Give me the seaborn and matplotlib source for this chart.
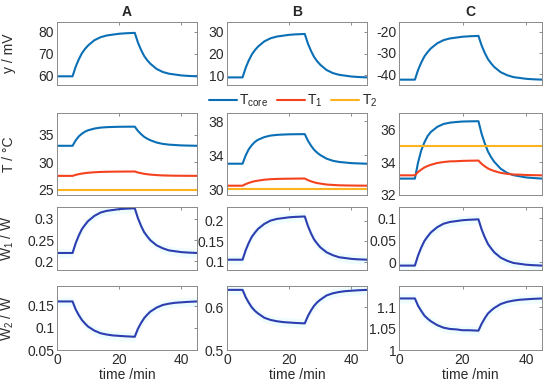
import matplotlib
matplotlib.use("Agg")
import matplotlib.pyplot as plt
import seaborn as sns
import pandas as pd

# time axis (min)
time = [0, 5, 6, 7, 8, 9, 10, 12, 14, 16, 18, 20, 22, 25,
        26, 27, 28, 29, 30, 32, 34, 36, 38, 40, 42, 45]

# row 1: y / mV
y_A = [59.5, 59.5, 63.9, 67.3, 70.1, 72.1, 73.7, 76.1, 77.5, 78.3, 78.7, 79.1, 79.3, 79.5,
       75.1, 71.7, 68.9, 66.9, 65.3, 62.9, 61.5, 60.7, 60.3, 59.9, 59.7, 59.5]
y_B = [9.0, 9.0, 13.4, 16.8, 19.6, 21.6, 23.2, 25.6, 27.0, 27.8, 28.2, 28.6, 28.8, 29.0,
       24.6, 21.2, 18.4, 16.4, 14.8, 12.4, 11.0, 10.2, 9.8, 9.4, 9.2, 9.0]
y_C = [-42.5, -42.5, -38.0, -34.5, -31.6, -29.6, -27.9, -25.5, -24.0, -23.2, -22.8, -22.4, -22.2, -22.0,
       -26.5, -30.0, -32.9, -34.9, -36.6, -39.0, -40.4, -41.3, -41.7, -42.1, -42.3, -42.5]

# row 2: temperatures
t_core = [33.0, 33.0, 33.98, 34.72, 35.21, 35.59, 35.84, 36.15, 36.33, 36.41, 36.45, 36.48, 36.49, 36.5,
          35.73, 35.14, 34.65, 34.30, 34.02, 33.60, 33.35, 33.21, 33.14, 33.07, 33.04, 33.0]
t1_A = [27.5, 27.5, 27.68, 27.81, 27.92, 28.0, 28.07, 28.16, 28.22, 28.25, 28.27, 28.28, 28.29, 28.3,
        28.12, 27.99, 27.88, 27.8, 27.73, 27.64, 27.58, 27.55, 27.53, 27.52, 27.51, 27.5]
t1_B = [30.4, 30.4, 30.59, 30.73, 30.85, 30.94, 31.0, 31.11, 31.17, 31.2, 31.22, 31.23, 31.24, 31.25,
        31.06, 30.92, 30.8, 30.71, 30.65, 30.54, 30.49, 30.45, 30.43, 30.42, 30.41, 30.4]
t1_C = [33.2, 33.2, 33.4, 33.55, 33.68, 33.77, 33.84, 33.95, 34.01, 34.05, 34.06, 34.08, 34.09, 34.1,
        33.9, 33.75, 33.62, 33.53, 33.46, 33.35, 33.29, 33.25, 33.24, 33.22, 33.21, 33.2]
t2_A = [25.0] * len(time)
t2_B = [30.0] * len(time)
t2_C = [35.0] * len(time)

# row 3: W1 / W
w1_A = [0.22, 0.22, 0.243, 0.261, 0.276, 0.286, 0.295, 0.307, 0.315, 0.319, 0.321, 0.323, 0.324, 0.325,
        0.302, 0.284, 0.269, 0.259, 0.25, 0.238, 0.231, 0.226, 0.224, 0.222, 0.221, 0.22]
w1_B = [0.105, 0.105, 0.128, 0.146, 0.161, 0.171, 0.18, 0.192, 0.2, 0.204, 0.206, 0.208, 0.209, 0.21,
        0.187, 0.169, 0.154, 0.144, 0.135, 0.123, 0.116, 0.111, 0.109, 0.107, 0.106, 0.105]
w1_C = [-0.008, -0.008, 0.015, 0.033, 0.048, 0.058, 0.067, 0.079, 0.087, 0.091, 0.093, 0.095, 0.096, 0.097,
        0.074, 0.056, 0.041, 0.031, 0.022, 0.01, 0.003, -0.002, -0.004, -0.006, -0.007, -0.008]

# row 4: W2 / W
w2_A = [0.16, 0.16, 0.142, 0.129, 0.118, 0.11, 0.103, 0.094, 0.088, 0.085, 0.083, 0.082, 0.081, 0.08,
        0.098, 0.111, 0.122, 0.13, 0.137, 0.146, 0.152, 0.155, 0.157, 0.158, 0.159, 0.16]
w2_B = [0.64, 0.64, 0.623, 0.61, 0.599, 0.591, 0.585, 0.575, 0.57, 0.567, 0.565, 0.564, 0.563, 0.562,
        0.579, 0.592, 0.603, 0.611, 0.617, 0.627, 0.632, 0.635, 0.637, 0.638, 0.639, 0.64]
w2_C = [1.12, 1.12, 1.103, 1.091, 1.08, 1.073, 1.067, 1.058, 1.052, 1.049, 1.048, 1.046, 1.046, 1.045,
        1.061, 1.074, 1.085, 1.092, 1.098, 1.107, 1.112, 1.115, 1.117, 1.118, 1.119, 1.12]

columns = ["A", "B", "C"]
row_labels = ["y / mV", "T / °C", "W$_1$ / W", "W$_2$ / W"]

ylims = [
    [(55.5, 84.5), (5.5, 34.5), (-45, -15.5)],
    [(24, 39), (29.3, 39), (32, 37)],
    [(0.18, 0.328), (0.08, 0.233), (-0.018, 0.125)],
    [(0.05, 0.195), (0.5, 0.649), (1.0, 1.149)],
]
yticks = [
    [[60, 70, 80], [10, 20, 30], [-40, -30, -20]],
    [[25, 30, 35], [30, 34, 38], [32, 34, 36]],
    [[0.2, 0.25, 0.3], [0.1, 0.15, 0.2], [0, 0.05, 0.1]],
    [[0.05, 0.1, 0.15], [0.5, 0.6], [1, 1.05, 1.1]],
]

BLUE = "#0b6fb5"
RED = "#f4421f"
ORANGE = "#fdb31f"
NAVY = "#2d3eb1"
TXT = "#2a2a2a"

sns.set_style("white")
plt.rcParams["font.family"] = ["Liberation Sans", "DejaVu Sans"]
plt.rcParams["mathtext.fontset"] = "custom"
plt.rcParams["mathtext.rm"] = "Liberation Sans"
plt.rcParams["mathtext.it"] = "Liberation Sans"

fig = plt.figure(figsize=(5.5, 3.89), dpi=100)
W, H = 550.0, 389.0
col_px = [(57, 197), (227, 367), (399, 542)]
row_px = [(22, 85), (113, 195), (207, 270), (286, 350)]

single = [[y_A, y_B, y_C], None, [w1_A, w1_B, w1_C], [w2_A, w2_B, w2_C]]
temps = [(t_core, t1_A, t2_A), (t_core, t1_B, t2_B), (t_core, t1_C, t2_C)]

for r, (y0, y1) in enumerate(row_px):
    for c, (x0, x1) in enumerate(col_px):
        ax = fig.add_axes([x0 / W, 1 - y1 / H, (x1 - x0) / W, (y1 - y0) / H])
        if r == 1:
            core, t1, t2 = temps[c]
            df = pd.DataFrame({
                "time": time * 3,
                "T": core + t1 + t2,
                "series": ["core"] * len(time) + ["t1"] * len(time) + ["t2"] * len(time),
            })
            sns.lineplot(data=df, x="time", y="T", hue="series", ax=ax,
                         palette=[BLUE, RED, ORANGE], linewidth=1.5, legend=False)
        else:
            vals = single[r][c]
            df = pd.DataFrame({"time": time, "v": vals})
            color = BLUE if r == 0 else NAVY
            if r >= 2:
                # faint halo seen around the power curves
                span = ylims[r][c][1] - ylims[r][c][0]
                ax.fill_between(time, [v - 0.07 * span for v in vals],
                                [v + 0.07 * span for v in vals],
                                color="#effcfd", linewidth=0, zorder=0)
            sns.lineplot(data=df, x="time", y="v", ax=ax, color=color, linewidth=1.5)

        ax.set_xlim(0, 45)
        ax.set_ylim(*ylims[r][c])
        ax.set_xticks([0, 20, 40])
        ax.set_yticks(yticks[r][c])
        ax.set_yticklabels([f"{t:g}" for t in yticks[r][c]])
        ax.tick_params(direction="in", top=True, right=True, length=2.5, width=0.6,
                       color="#7a7a7a", labelsize=10, labelcolor=TXT, pad=2)
        for s in ax.spines.values():
            s.set_color("#8a8a8a")
            s.set_linewidth(0.7)
        ax.set_xlabel("")
        ax.set_ylabel("")
        if r < 3:
            ax.set_xticklabels([])
        else:
            ax.set_xlabel("time /min", fontsize=10, color=TXT, labelpad=1)
        if c == 0:
            ax.set_ylabel(row_labels[r], fontsize=10, color=TXT)
            ax.yaxis.set_label_coords(-0.29, 0.5)
        if r == 0:
            ax.set_title(columns[c], fontsize=10, fontweight="bold", pad=4)

handles = [plt.Line2D([], [], color=BLUE, lw=1.5),
           plt.Line2D([], [], color=RED, lw=1.5),
           plt.Line2D([], [], color=ORANGE, lw=1.5)]
fig.legend(handles, ["T$_{core}$", "T$_1$", "T$_2$"], loc="center",
           bbox_to_anchor=(293 / W, 1 - 101 / H), ncol=3, frameon=False,
           fontsize=10, handlelength=2.0, handletextpad=0.2, columnspacing=0.6,
           borderpad=0.1)

fig.savefig("out.png", dpi=100)
